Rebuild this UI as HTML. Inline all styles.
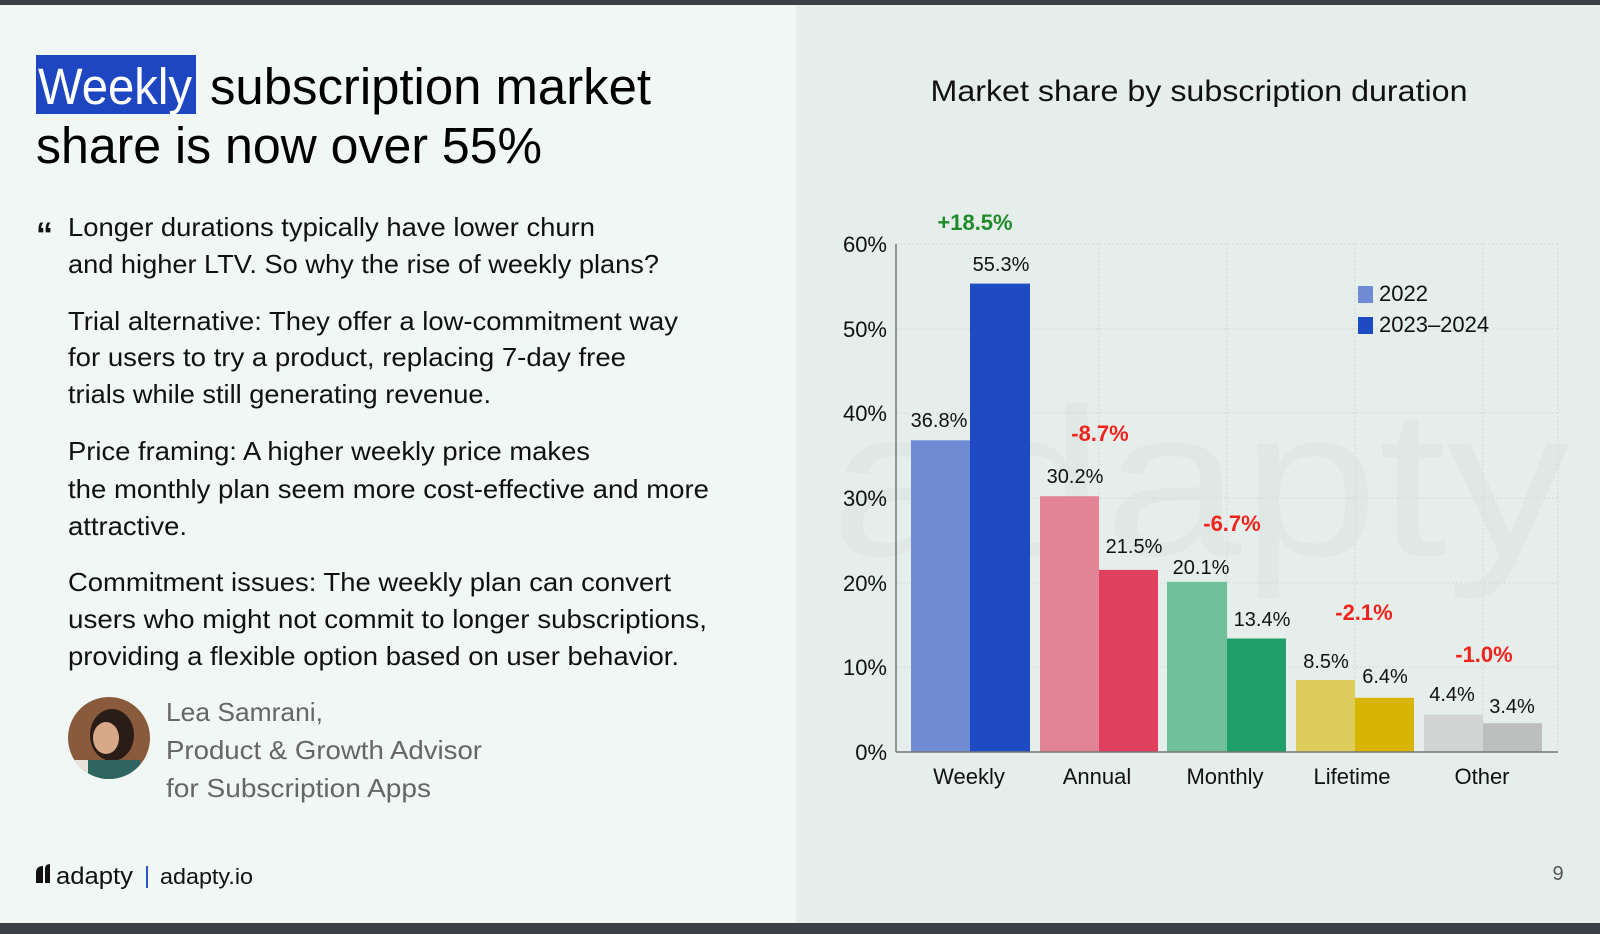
<!DOCTYPE html>
<html><head><meta charset="utf-8"><style>
html,body{margin:0;padding:0;width:1600px;height:934px;overflow:hidden;}
svg{display:block;font-family:"Liberation Sans",Arial,sans-serif;}
</style></head><body>
<svg width="1600" height="934" viewBox="0 0 1600 934" xmlns="http://www.w3.org/2000/svg">
<rect x="0" y="0" width="1600" height="934" fill="#f0f7f5"/>
<rect x="796" y="0" width="804" height="934" fill="#e5eeea"/>
<rect x="0" y="0" width="1600" height="5" fill="#3c3f43"/>
<rect x="0" y="923" width="1600" height="11" fill="#3c3f43"/>

<rect x="36" y="55" width="160" height="59" fill="#1e46c0"/>
<text x="38" y="104" font-size="51" fill="#fff" textLength="154" lengthAdjust="spacingAndGlyphs">Weekly</text>
<text x="210" y="104" font-size="51" fill="#000" textLength="441" lengthAdjust="spacingAndGlyphs">subscription market</text>
<text x="36" y="163" font-size="51" fill="#000" textLength="506" lengthAdjust="spacingAndGlyphs">share is now over 55%</text>

<text x="36" y="246" font-size="34" font-weight="bold" fill="#111">“</text>
<g font-size="26" fill="#111">
<text x="68" y="236" textLength="527" lengthAdjust="spacingAndGlyphs">Longer durations typically have lower churn</text>
<text x="68" y="273" textLength="591" lengthAdjust="spacingAndGlyphs">and higher LTV. So why the rise of weekly plans?</text>
<text x="68" y="330" textLength="610" lengthAdjust="spacingAndGlyphs">Trial alternative: They offer a low-commitment way</text>
<text x="68" y="366" textLength="558" lengthAdjust="spacingAndGlyphs">for users to try a product, replacing 7-day free</text>
<text x="68" y="403" textLength="423" lengthAdjust="spacingAndGlyphs">trials while still generating revenue.</text>
<text x="68" y="460" textLength="522" lengthAdjust="spacingAndGlyphs">Price framing: A higher weekly price makes</text>
<text x="68" y="498" textLength="641" lengthAdjust="spacingAndGlyphs">the monthly plan seem more cost-effective and more</text>
<text x="68" y="535" textLength="119" lengthAdjust="spacingAndGlyphs">attractive.</text>
<text x="68" y="591" textLength="603" lengthAdjust="spacingAndGlyphs">Commitment issues: The weekly plan can convert</text>
<text x="68" y="628" textLength="639" lengthAdjust="spacingAndGlyphs">users who might not commit to longer subscriptions,</text>
<text x="68" y="665" textLength="611" lengthAdjust="spacingAndGlyphs">providing a flexible option based on user behavior.</text>
</g>

<defs><clipPath id="av"><circle cx="109" cy="738" r="41"/></clipPath></defs>
<g clip-path="url(#av)">
<rect x="68" y="697" width="82" height="82" fill="#8a5a3c"/>
<ellipse cx="112" cy="735" rx="22" ry="26" fill="#2a1d18"/>
<ellipse cx="106" cy="738" rx="13" ry="16" fill="#d8a888"/>
<rect x="80" y="760" width="60" height="25" fill="#2f6560"/>
<rect x="72" y="760" width="16" height="25" fill="#e8e2d8"/>
</g>
<g font-size="26" fill="#666">
<text x="166" y="721" textLength="157" lengthAdjust="spacingAndGlyphs">Lea Samrani,</text>
<text x="166" y="759" textLength="316" lengthAdjust="spacingAndGlyphs">Product &amp; Growth Advisor</text>
<text x="166" y="797" textLength="265" lengthAdjust="spacingAndGlyphs">for Subscription Apps</text>
</g>

<path d="M36 883 L36 873 Q36 866 43 866 L43 883 Z" fill="#111"/>
<path d="M45 883 L45 869 Q45 864 50 864 L50 883 Z" fill="#111"/>
<text x="56" y="884" font-size="24" fill="#111" textLength="77" lengthAdjust="spacingAndGlyphs">adapty</text>
<rect x="146" y="866" width="2" height="22" fill="#2b55c8"/>
<text x="160" y="884" font-size="22" fill="#111" textLength="93" lengthAdjust="spacingAndGlyphs">adapty.io</text>
<text x="1558" y="880" font-size="20" fill="#555" text-anchor="middle">9</text>

<text x="1199" y="101" font-size="30" fill="#111" text-anchor="middle" textLength="537" lengthAdjust="spacingAndGlyphs">Market share by subscription duration</text>

<text x="830" y="555" font-size="210" fill="#000" fill-opacity="0.022" textLength="740" lengthAdjust="spacingAndGlyphs">adapty</text>

<g stroke="#d4dcd8" stroke-width="1" stroke-dasharray="2,2">
<line x1="896" y1="244" x2="1558" y2="244"/>
<line x1="896" y1="329" x2="1558" y2="329"/>
<line x1="896" y1="413" x2="1558" y2="413"/>
<line x1="896" y1="498" x2="1558" y2="498"/>
<line x1="896" y1="583" x2="1558" y2="583"/>
<line x1="896" y1="667" x2="1558" y2="667"/>
<line x1="1099" y1="244" x2="1099" y2="752"/>
<line x1="1227" y1="244" x2="1227" y2="752"/>
<line x1="1355" y1="244" x2="1355" y2="752"/>
<line x1="1483" y1="244" x2="1483" y2="752"/>
<line x1="1558" y1="244" x2="1558" y2="752"/>
</g>
<g font-size="22" fill="#111" text-anchor="end">
<text x="887" y="252">60%</text>
<text x="887" y="337">50%</text>
<text x="887" y="421">40%</text>
<text x="887" y="506">30%</text>
<text x="887" y="591">20%</text>
<text x="887" y="675">10%</text>
<text x="887" y="760">0%</text>
</g>

<rect x="911" y="440.3" width="59" height="311.7" fill="#6f8bd4"/>
<rect x="970" y="283.6" width="60" height="468.4" fill="#1e4bc4"/>
<rect x="1040" y="496.2" width="59" height="255.8" fill="#e28396"/>
<rect x="1099" y="569.9" width="59" height="182.1" fill="#de405e"/>
<rect x="1167" y="581.8" width="60" height="170.2" fill="#70c09c"/>
<rect x="1227" y="638.5" width="59" height="113.5" fill="#1fa06a"/>
<rect x="1296" y="680" width="59" height="72" fill="#decd5c"/>
<rect x="1355" y="697.8" width="59" height="54.2" fill="#d8b502"/>
<rect x="1424" y="714.7" width="59" height="37.3" fill="#d2d4d4"/>
<rect x="1483" y="723.2" width="59" height="28.8" fill="#bdbebe"/>

<line x1="896" y1="244" x2="896" y2="752" stroke="#777" stroke-width="1.5"/>
<line x1="896" y1="752" x2="1558" y2="752" stroke="#777" stroke-width="1.5"/>

<g font-size="20" fill="#111" text-anchor="middle">
<text x="939" y="427">36.8%</text>
<text x="1001" y="271">55.3%</text>
<text x="1075" y="483">30.2%</text>
<text x="1134" y="553">21.5%</text>
<text x="1201" y="574">20.1%</text>
<text x="1262" y="626">13.4%</text>
<text x="1326" y="668">8.5%</text>
<text x="1385" y="683">6.4%</text>
<text x="1452" y="701">4.4%</text>
<text x="1512" y="713">3.4%</text>
</g>
<g font-size="22" font-weight="bold" text-anchor="middle">
<text x="975" y="230" fill="#1e8a2a">+18.5%</text>
<text x="1100" y="441" fill="#f0231e">-8.7%</text>
<text x="1232" y="531" fill="#f0231e">-6.7%</text>
<text x="1364" y="620" fill="#f0231e">-2.1%</text>
<text x="1484" y="662" fill="#f0231e">-1.0%</text>
</g>
<g font-size="22" fill="#111" text-anchor="middle">
<text x="969" y="784">Weekly</text>
<text x="1097" y="784">Annual</text>
<text x="1225" y="784">Monthly</text>
<text x="1352" y="784">Lifetime</text>
<text x="1482" y="784">Other</text>
</g>

<rect x="1358" y="286" width="15" height="17" fill="#6f8bd4"/>
<rect x="1358" y="317" width="15" height="17" fill="#1e4bc4"/>
<g font-size="22" fill="#111">
<text x="1379" y="301">2022</text>
<text x="1379" y="332">2023–2024</text>
</g>
</svg>
</body></html>
